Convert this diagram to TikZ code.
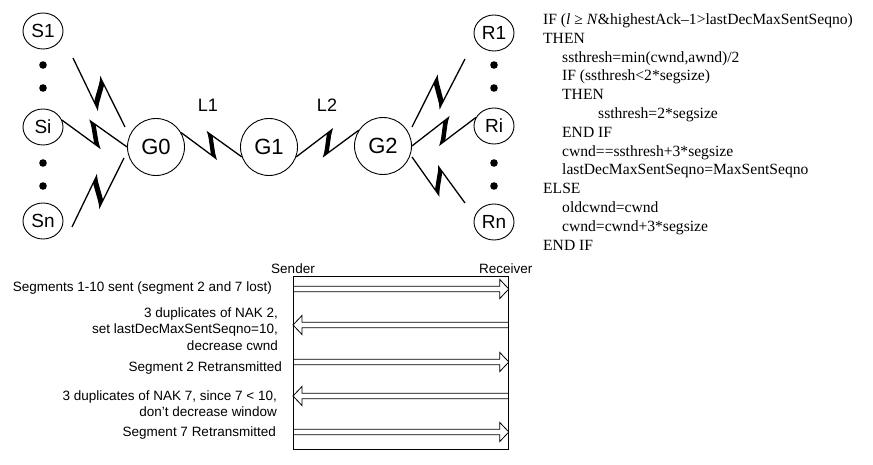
\documentclass[tikz,border=0pt]{standalone}
\usepackage{fontspec}
\setmainfont{Liberation Serif}
\setsansfont{Liberation Sans}
\usepackage{tikz}
\usetikzlibrary{calc,shapes.geometric}

\tikzset{
  host/.style={draw,line width=0.9pt,ellipse,minimum width=40pt,minimum height=36pt,inner sep=0pt,font=\sffamily\fontsize{19}{19}\selectfont},
  gw/.style={draw,line width=0.9pt,circle,minimum size=57pt,inner sep=0pt,font=\sffamily\fontsize{22}{22}\selectfont},
  lnk/.style={inner sep=0pt,font=\sffamily\fontsize{18}{18}\selectfont},
  link/.style={line width=1.3pt},
  msg/.style={line width=0.8pt,to path={
    let \p1=(\tikztostart), \p2=(\tikztotarget), \p3=($(\tikztotarget)!9pt!(\tikztostart)$) in
    (\x1,\y1+2.7pt) -- (\x3,\y1+2.7pt) -- (\x3,\y1+9.5pt) -- (\x2,\y2)
    -- (\x3,\y1-9.5pt) -- (\x3,\y1-2.7pt) -- (\x1,\y1-2.7pt)}},
  seqlbl/.style={inner sep=0pt,anchor=east,align=right,font=\sffamily\fontsize{13.5}{16.5}\selectfont}
}
% zigzag radio link: #1 from, #2 to, #3 side of the first kink (90 or -90)
\newcommand{\bolt}[3]{%
  \draw[link] (#1) -- ($(#1)!0.64!(#2)!11pt!#3:(#2)$) coordinate (bp1)
    -- ($(#1)!0.38!(#2)!-10pt!#3:(#2)$) coordinate (bp2) -- (#2);
  \fill ($(#1)!0.86!(bp1)$) -- (bp1) -- ($(bp2)!0.14!(#2)$) -- (bp2) -- cycle;}

\begin{document}
\begin{tikzpicture}[x=1pt,y=-1pt]
\useasboundingbox (0,0) rectangle (873,465);
% network
\node[host] (S1) at (43,31) {S1};
\node[host] (Si) at (43,127) {Si};
\node[host] (Sn) at (43,221) {Sn};
\node[gw] (G0) at (156,147) {G0};
\node[gw] (G1) at (269,147) {G1};
\node[gw] (G2) at (383,146) {G2};
\node[host] (R1) at (494,33) {R1};
\node[host] (Ri) at (494,126) {Ri};
\node[host] (Rn) at (494,222) {Rn};
\foreach \y in {65,88,163,186} { \fill (43,\y) circle (3.8pt); \fill (494,\y) circle (3.8pt); }
\coordinate (s1x) at (73,58);   \coordinate (s1y) at (125,127);
\coordinate (snx) at (72,227);  \coordinate (sny) at (124,158);
\coordinate (r1x) at (412,127); \coordinate (r1y) at (465,59);
\coordinate (rnx) at (412,157); \coordinate (rny) at (465,203);
\bolt{s1x}{s1y}{-90}
\bolt{Si.20}{G0.west}{-90}
\bolt{snx}{sny}{90}
\bolt{G0.30}{G1.200}{-90}
\bolt{G1.-20}{G2.147}{90}
\bolt{r1x}{r1y}{90}
\bolt{G2.east}{Ri.155}{90}
\bolt{rnx}{rny}{-90}
\node[lnk] (L1) at (208,105) {L1};
\node[lnk] (L2) at (327,105) {L2};
% algorithm
\node[anchor=north west,align=left,inner sep=0pt,font=\fontsize{15.6}{18.8}\selectfont] (algo) at (543,13.5)
  {IF (\textit{l} ≥ \textit{N}\&highestAck–1>lastDecMaxSentSeqno)\\
   THEN\\
   \hspace*{19pt}ssthresh=min(cwnd,awnd)/2\\
   \hspace*{19pt}IF (ssthresh<2*segsize)\\
   \hspace*{19pt}THEN\\
   \hspace*{55pt}ssthresh=2*segsize\\
   \hspace*{19pt}END IF\\
   \hspace*{19pt}cwnd==ssthresh+3*segsize\\
   \hspace*{19pt}lastDecMaxSentSeqno=MaxSentSeqno\\
   ELSE\\
   \hspace*{19pt}oldcwnd=cwnd\\
   \hspace*{19pt}cwnd=cwnd+3*segsize\\
   END IF};
% sequence
\node[draw,line width=0.8pt,anchor=north west,minimum width=215pt,minimum height=173pt,inner sep=0pt] (box) at (293,276) {};
\node[anchor=base,inner sep=0pt,font=\sffamily\fontsize{13.5}{13.5}\selectfont] (snd) at ([yshift=2.5pt]box.north west) {Sender};
\node[anchor=base,inner sep=0pt,font=\sffamily\fontsize{13.5}{13.5}\selectfont] (rcv) at ([xshift=-3pt,yshift=2.5pt]box.north east) {Receiver};
\foreach \d in {13,86,156} \draw[msg] ([yshift=-\d pt]box.north west) to ([yshift=-\d pt]box.north east);
\foreach \d in {49,120} \draw[msg] ([yshift=-\d pt]box.north east) to ([yshift=-\d pt]box.north west);
\node[seqlbl] (m1) at (272,288) {Segments 1-10 sent (segment 2 and 7 lost)};
\node[seqlbl] (m2) at (278,329) {3 duplicates of NAK 2,\\ set lastDecMaxSentSeqno=10,\\ decrease cwnd};
\node[seqlbl] (m3) at (282,368) {Segment 2 Retransmitted};
\node[seqlbl] (m4) at (277,403.5) {3 duplicates of NAK 7, since 7 < 10,\\ don't decrease window};
\node[seqlbl] (m5) at (276,433) {Segment 7 Retransmitted};
\end{tikzpicture}
\end{document}
